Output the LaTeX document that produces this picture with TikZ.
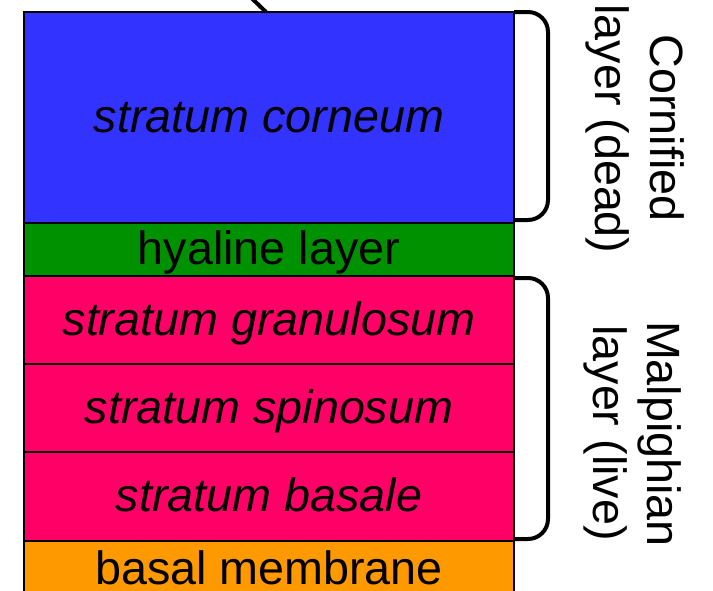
\documentclass[tikz,border=0pt]{standalone}
\usepackage{fontspec}
\setmainfont{Liberation Sans}
\definecolor{cblue}{HTML}{3333FF}
\definecolor{cgreen}{HTML}{009100}
\definecolor{cpink}{HTML}{FF0066}
\definecolor{corange}{HTML}{FF9900}
\tikzset{
  layerbox/.style={draw=black, line width=2pt, inner sep=0pt, minimum width=490pt,
    text height=40pt, text depth=10pt,
    font=\fontsize{46.7}{56}\selectfont},
  brace/.style={draw=black, line width=4pt, rounded corners=20pt},
  sidelabel/.style={rotate=-90, anchor=base, inner sep=0pt, font=\fontsize{46.7}{56}\selectfont},
  pointer/.style={draw=black, line width=4pt}
}
\begin{document}
\begin{tikzpicture}[x=1pt,y=1pt]
\useasboundingbox (0,0) rectangle (713,-590);
\clip (0,0) rectangle (713,-590);
\node[layerbox, fill=cblue, minimum height=211pt] (corneum) at (269,-117.5) {\itshape stratum corneum};
\node[layerbox, fill=cgreen, minimum height=53pt] (hyaline) at (269,-249.5) {hyaline layer};
\node[layerbox, fill=cpink, minimum height=88pt] (granulosum) at (269,-320) {\itshape stratum granulosum};
\node[layerbox, fill=cpink, minimum height=88pt] (spinosum) at (269,-408) {\itshape stratum spinosum};
\node[layerbox, fill=cpink, minimum height=89pt] (basale) at (269,-496.5) {\itshape stratum basale};
\node[layerbox, fill=corange, minimum height=80pt] (membrane) at (269,-581) {};
\node[font=\fontsize{46.7}{56}\selectfont, anchor=base] (membranetext) at (269,-584.5) {basal membrane};
\coordinate (ptrstart) at (240,13);
\draw[pointer] (ptrstart) -- (266,-12);
\draw[brace] (514,-12) -- (548,-12) -- (548,-220) -- (514,-220);
\draw[brace] (514,-278) -- (548,-278) -- (548,-539) -- (514,-539);
\node[sidelabel] (cornified) at (650,-128) {Cornified};
\node[sidelabel] (dead) at (595,-129) {layer (dead)};
\node[sidelabel] (malpighian) at (647,-434) {Malpighian};
\node[sidelabel] (live) at (593,-433) {layer (live)};
\end{tikzpicture}
\end{document}
